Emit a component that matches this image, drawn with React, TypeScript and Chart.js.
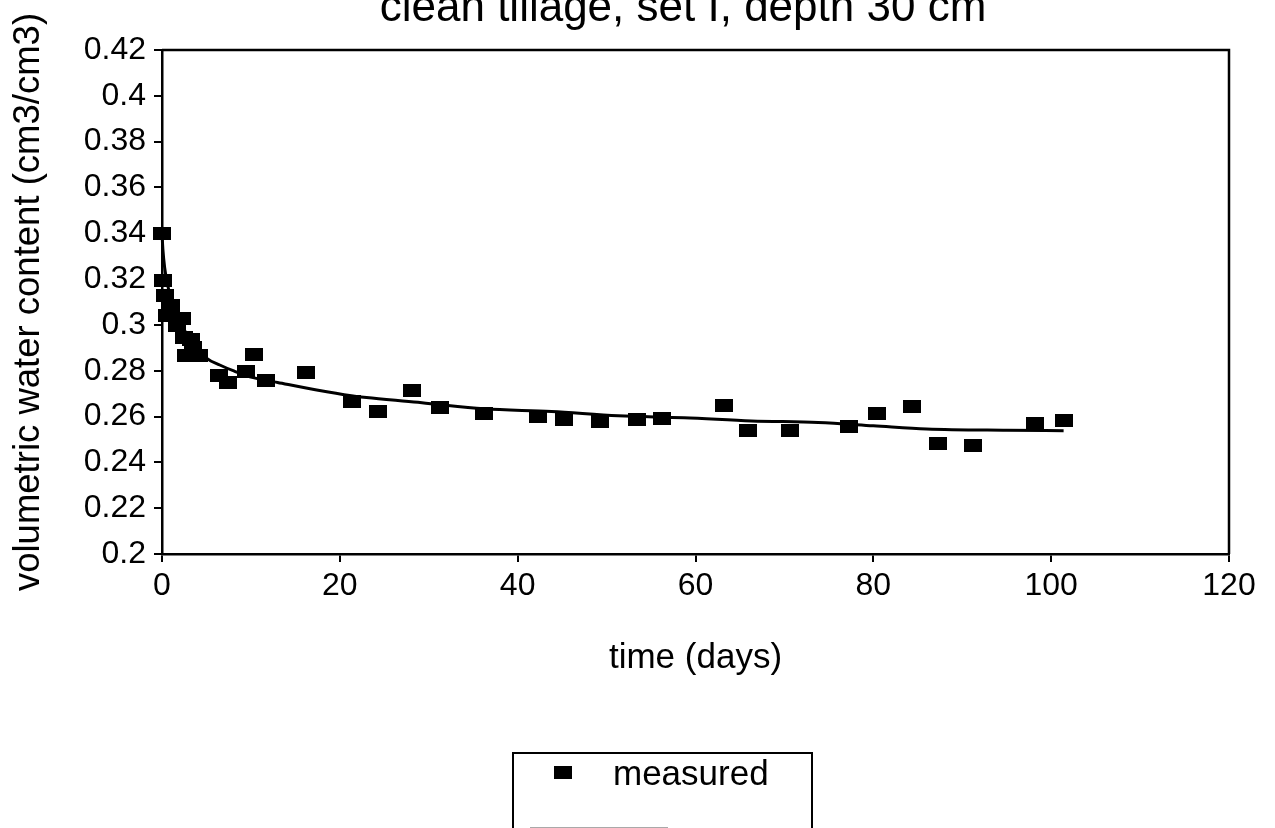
import React, { useEffect, useRef } from "react";
import { Chart, registerables } from "chart.js";

Chart.register(...registerables);

// ---------------- data ----------------
const measuredDays = [
  0, 0.15, 0.3, 0.6, 1.0, 1.7, 2.3, 2.5, 2.7, 3.3, 3.5, 4.2, 6.4, 7.4, 9.4, 10.4,
  11.7, 16.2, 21.4, 24.3, 28.1, 31.3, 36.2, 42.3, 45.2, 49.3, 53.4, 56.2, 63.2,
  65.9, 70.6, 77.3, 80.4, 84.4, 87.3, 91.2, 98.2, 101.4,
];
const measuredTheta = [
  0.34, 0.3195, 0.313, 0.304, 0.3085, 0.2997, 0.3026, 0.2946, 0.2866, 0.2935,
  0.29, 0.2866, 0.2778, 0.2749, 0.2797, 0.2873, 0.2756, 0.2793, 0.2664, 0.2622,
  0.2714, 0.264, 0.2612, 0.26, 0.2586, 0.2577, 0.2589, 0.2592, 0.2647, 0.2538,
  0.2538, 0.2557, 0.2613, 0.2643, 0.2484, 0.2472, 0.2571, 0.2581,
];
const fittedDays = [
  0, 0.1, 0.3, 0.6, 1, 1.5, 2, 3, 4, 5, 6.5, 8, 10, 13, 17.4, 21.3, 23, 28.8,
  30.5, 36.2, 43.8, 51.3, 58.7, 66.3, 73.8, 80, 86, 95, 101.4,
];
const fittedTheta = [
  0.34, 0.333, 0.325, 0.318, 0.312, 0.306, 0.301, 0.295, 0.29, 0.2855, 0.2825,
  0.28, 0.2772, 0.2749, 0.2716, 0.2691, 0.2683, 0.2662, 0.2655, 0.2634, 0.2622,
  0.2603, 0.2595, 0.2581, 0.2574, 0.256, 0.2546, 0.254, 0.2538,
];
const xTickValues = [0, 20, 40, 60, 80, 100, 120];
const yTickValues = [0.2, 0.22, 0.24, 0.26, 0.28, 0.3, 0.32, 0.34, 0.36, 0.38, 0.4, 0.42];
const seriesLabels = ["measured", "fitted"];
const chartTitle = "clean tillage, set I, depth 30 cm";
const xAxisTitle = "time (days)";
const yAxisTitle = "volumetric water content (cm3/cm3)";

const FONT = "'Liberation Sans', Arial, Helvetica, sans-serif";

function makeMarker(w: number, h: number): HTMLCanvasElement {
  const c = document.createElement("canvas");
  c.width = w;
  c.height = h;
  const g = c.getContext("2d")!;
  g.fillStyle = "#000";
  g.fillRect(0, 0, w, h);
  return c;
}

const framePlugin = {
  id: "frame",
  afterDatasetsDraw(chart: any) {
    const { ctx, chartArea: a } = chart;
    ctx.save();
    ctx.strokeStyle = "#000";
    ctx.lineWidth = 2.5;
    ctx.beginPath();
    ctx.moveTo(a.left, a.top);
    ctx.lineTo(a.right, a.top);
    ctx.lineTo(a.right, a.bottom);
    ctx.stroke();
    ctx.restore();
  },
};

const titlePlugin = {
  id: "cutTitle",
  afterDraw(chart: any) {
    const { ctx } = chart;
    ctx.save();
    ctx.fillStyle = "#000";
    ctx.font = `44px ${FONT}`;
    ctx.textAlign = "center";
    ctx.textBaseline = "alphabetic";
    ctx.fillText(chartTitle, 683, 21);
    ctx.restore();
  },
};

const boxLegendPlugin = {
  id: "boxLegend",
  afterDraw(chart: any) {
    const { ctx } = chart;
    const left = 513, top = 753, right = 812, bottom = 920;
    ctx.save();
    ctx.fillStyle = "#fff";
    ctx.fillRect(left, top, right - left, bottom - top);
    ctx.strokeStyle = "#000";
    ctx.lineWidth = 2;
    ctx.strokeRect(left, top, right - left, bottom - top);
    const ds = chart.data.datasets;
    // entry 1: marker
    const m = ds[0].pointStyle as HTMLCanvasElement;
    ctx.drawImage(m, 563 - m.width / 2, 772 - m.height / 2);
    ctx.fillStyle = "#000";
    ctx.font = `35px ${FONT}`;
    ctx.textAlign = "left";
    ctx.textBaseline = "alphabetic";
    ctx.fillText(ds[0].label, 613, 785);
    // entry 2: line sample (cut off by the page edge)
    ctx.strokeStyle = "#555";
    ctx.lineWidth = 3;
    ctx.beginPath();
    ctx.moveTo(530, 829);
    ctx.lineTo(668, 829);
    ctx.stroke();
    ctx.fillText(ds[1].label, 613, 870);
    ctx.restore();
  },
};

export default function App() {
  const ref = useRef<HTMLCanvasElement | null>(null);

  useEffect(() => {
    if (!ref.current) return;
    const marker = makeMarker(18, 13);
    const chart = new Chart(ref.current, {
      type: "scatter",
      data: {
        datasets: [
          {
            label: seriesLabels[0],
            data: measuredDays.map((d, i) => ({ x: d, y: measuredTheta[i] })),
            pointStyle: marker as any,
            pointRadius: 9,
            backgroundColor: "#000",
            borderColor: "#000",
            showLine: false,
            clip: false as any,
          },
          {
            label: seriesLabels[1],
            data: fittedDays.map((d, i) => ({ x: d, y: fittedTheta[i] })),
            showLine: true,
            pointRadius: 0,
            borderColor: "#000",
            borderWidth: 3,
            cubicInterpolationMode: "monotone",
            clip: false as any,
          },
        ],
      },
      options: {
        animation: false,
        responsive: false,
        events: [],
        layout: { padding: { left: 0, top: 50, right: 46, bottom: 0 } },
        plugins: {
          legend: { display: false },
          title: { display: false },
          tooltip: { enabled: false },
        },
        scales: {
          x: {
            type: "linear",
            min: 0,
            max: 120,
            afterFit(s: any) {
              s.height = 274;
            },
            afterBuildTicks(s: any) {
              s.ticks = xTickValues.map((v) => ({ value: v }));
            },
            ticks: {
              font: { family: FONT, size: 32 },
              color: "#000",
              padding: 5,
              maxRotation: 0,
              autoSkip: false,
              callback: (v: any) => String(v),
            },
            grid: {
              display: true,
              drawOnChartArea: false,
              drawTicks: true,
              tickLength: 8,
              color: "#000",
              lineWidth: 2,
            },
            border: { display: true, color: "#000", width: 2.5 },
            title: {
              display: true,
              text: xAxisTitle,
              font: { family: FONT, size: 35 },
              color: "#000",
              padding: { top: 0, bottom: 149 },
            },
          },
          y: {
            type: "linear",
            min: 0.2,
            max: 0.42,
            afterFit(s: any) {
              s.width = 162;
            },
            afterBuildTicks(s: any) {
              s.ticks = yTickValues.map((v) => ({ value: v }));
            },
            ticks: {
              font: { family: FONT, size: 32 },
              color: "#000",
              padding: 8,
              autoSkip: false,
              callback: (v: any) => String(+Number(v).toFixed(2)),
            },
            grid: {
              display: true,
              drawOnChartArea: false,
              drawTicks: true,
              tickLength: 8,
              color: "#000",
              lineWidth: 2,
            },
            border: { display: true, color: "#000", width: 2.5 },
            title: {
              display: true,
              text: yAxisTitle,
              font: { family: FONT, size: 36.5 },
              color: "#000",
              padding: { top: 7, bottom: 0 },
            },
          },
        },
      },
      plugins: [framePlugin, titlePlugin, boxLegendPlugin],
    });
    return () => chart.destroy();
  }, []);

  return (
    <div
      style={{
        position: "absolute",
        left: 0,
        top: 0,
        width: 1275,
        height: 828,
        overflow: "hidden",
        background: "#fff",
      }}
    >
      <canvas ref={ref} width={1275} height={828} style={{ display: "block" }} />
    </div>
  );
}
